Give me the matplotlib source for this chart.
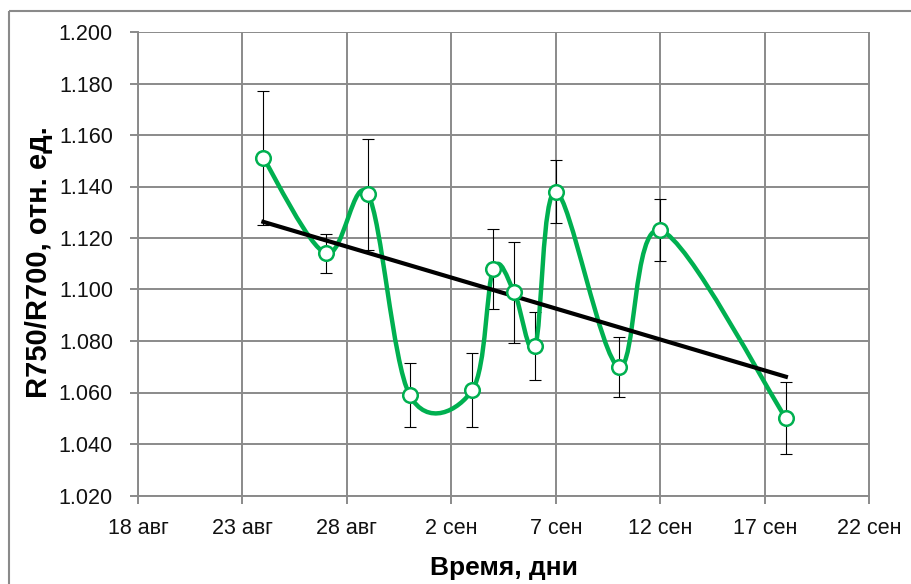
import datetime as dt

import numpy as np
import matplotlib
matplotlib.use("Agg")
import matplotlib.pyplot as plt
from matplotlib.path import Path
from matplotlib.patches import PathPatch, Rectangle

plt.rcParams["font.family"] = ["Liberation Sans", "DejaVu Sans"]

# даты измерений, значения R750/R700 и погрешности
dates = ["2014-08-24", "2014-08-27", "2014-08-29", "2014-08-31", "2014-09-03",
         "2014-09-04", "2014-09-05", "2014-09-06", "2014-09-07", "2014-09-10",
         "2014-09-12", "2014-09-18"]
values = [1.151, 1.114, 1.137, 1.059, 1.061, 1.108, 1.099, 1.078, 1.138, 1.070,
          1.123, 1.050]
errors = [0.026, 0.0076, 0.0215, 0.0124, 0.0145, 0.0156, 0.0196, 0.0132, 0.0123,
          0.0116, 0.012, 0.0139]

tick_dates = ["2014-08-18", "2014-08-23", "2014-08-28", "2014-09-02", "2014-09-07",
              "2014-09-12", "2014-09-17", "2014-09-22"]
tick_labels = ["18 авг", "23 авг", "28 авг", "2 сен", "7 сен", "12 сен", "17 сен",
               "22 сен"]
y_ticks = [1.02, 1.04, 1.06, 1.08, 1.10, 1.12, 1.14, 1.16, 1.18, 1.20]

GREEN = "#00b050"
GRID = "#8a8a8a"


def to_num(s):
    return dt.date.fromisoformat(s).toordinal()


def excel_smooth(x, y):
    # сглаженная линия как в Excel: Безье с контрольными точками ±(P[i+1]-P[i-1])/6
    p = np.column_stack([x, y]).astype(float)
    n = len(p)
    verts = [p[0]]
    codes = [Path.MOVETO]
    for i in range(n - 1):
        p0 = p[i - 1] if i > 0 else p[i]
        p3 = p[i + 2] if i + 2 < n else p[i + 1]
        c1 = p[i] + (p[i + 1] - p0) / 6
        c2 = p[i + 1] - (p3 - p[i]) / 6
        verts += [c1, c2, p[i + 1]]
        codes += [Path.CURVE4] * 3
    return Path(verts, codes)


x = np.array([to_num(d) for d in dates])
y = np.array(values)
xt = [to_num(d) for d in tick_dates]

fig = plt.figure(figsize=(9.11, 5.84), dpi=100)
W, H = 911, 584
ax = fig.add_axes([138 / W, 1 - 495.5 / H, (869.5 - 138) / W, (495.5 - 32) / H])

ax.set_xlim(xt[0], xt[-1])
ax.set_ylim(1.02, 1.20)
ax.set_xticks(xt)
ax.set_xticklabels(tick_labels)
ax.set_yticks(y_ticks)
ax.set_yticklabels([f"{v:.3f}" for v in y_ticks])
ax.grid(True, color=GRID, lw=1.4)
ax.set_axisbelow(True)
for s in ["top", "right"]:
    ax.spines[s].set_visible(False)
for s in ["left", "bottom"]:
    ax.spines[s].set_color(GRID)
    ax.spines[s].set_linewidth(1.4)
ax.tick_params(axis="both", colors=GRID, width=1.4, length=6, labelsize=15.5,
               labelcolor="#111111")
ax.tick_params(axis="x", pad=10)
ax.tick_params(axis="y", pad=12)

ax.errorbar(x, y, yerr=errors, fmt="none", ecolor="black", elinewidth=0.8,
            capsize=4, capthick=0.8, zorder=2)
ax.add_patch(PathPatch(excel_smooth(x, y), fill=False, edgecolor=GREEN, lw=3.2,
                       zorder=3, capstyle="round", joinstyle="round"))

k, b = np.polyfit(x - x[0], y, 1)
ax.plot([x[0], x[-1]], [b, b + k * (x[-1] - x[0])], color="black", lw=3, zorder=4)

ax.plot(x, y, "o", ms=10.5, mfc="white", mec=GREEN, mew=1.8, zorder=5)

ax.set_xlabel("Время, дни", fontsize=19, fontweight="bold")
ax.xaxis.set_label_coords(0.5, (495.5 - 556) / 463.5)
ax.set_ylabel("R750/R700, отн. ед.", fontsize=21, fontweight="bold")
ax.yaxis.set_label_coords((53 - 138) / 731.5, (495.5 - 262) / 463.5)

fig.patches.append(Rectangle((9, H - 11), W + 20, -H, transform=None, fill=False,
                             edgecolor=GRID, lw=1.5))

fig.savefig("out.png", dpi=100)
